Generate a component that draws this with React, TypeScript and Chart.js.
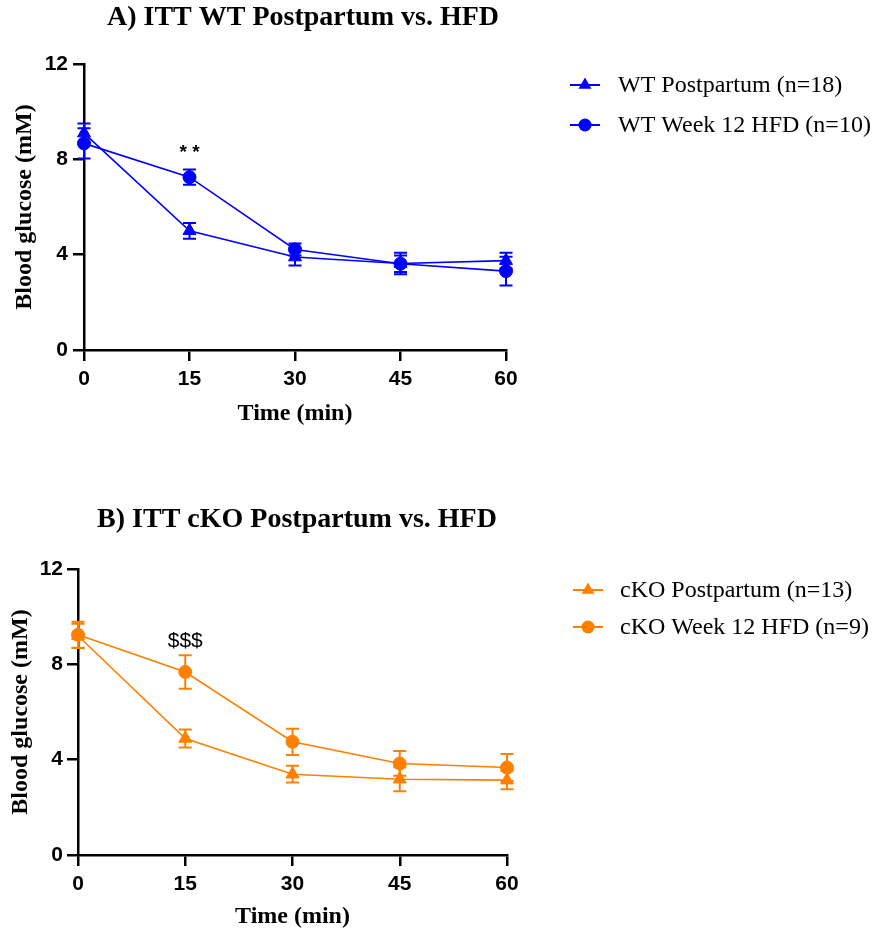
import React, { useEffect, useRef } from 'react';
import { Chart, registerables } from 'chart.js';

Chart.register(...registerables);

// ---------- data ----------
const times = [0, 15, 30, 45, 60];
const xTickValues = [0, 15, 30, 45, 60];
const yTickValues = [0, 4, 8, 12];

const wtPostpartumMean = [9.1, 5.0, 3.9, 3.63, 3.75];
const wtPostpartumSem = [0.4, 0.33, 0.35, 0.45, 0.33];
const wtHfdMean = [8.67, 7.25, 4.22, 3.62, 3.31];
const wtHfdSem = [0.63, 0.32, 0.25, 0.35, 0.6];

const koPostpartumMean = [9.2, 4.89, 3.39, 3.18, 3.14];
const koPostpartumSem = [0.5, 0.38, 0.35, 0.5, 0.38];
const koHfdMean = [9.24, 7.68, 4.75, 3.84, 3.67];
const koHfdSem = [0.55, 0.7, 0.55, 0.52, 0.57];

const labelsA = ['WT Postpartum (n=18)', 'WT Week 12 HFD (n=10)'];
const labelsB = ['cKO Postpartum (n=13)', 'cKO Week 12 HFD (n=9)'];
const titleA = 'A) ITT WT Postpartum vs. HFD';
const titleB = 'B) ITT cKO Postpartum vs. HFD';
const annotA = { x: 15, y: 8.28, text: '* *' };
const annotB = { x: 15, y: 8.97, text: '$$$' };

const BLUE = '#0000ff';
const ORANGE = '#ff8000';

const SERIF = '"Liberation Serif", "Times New Roman", serif';
const SANS = '"Liberation Sans", Arial, sans-serif';

function drawMarker(ctx: CanvasRenderingContext2D, style: string, x: number, y: number, r: number, color: string) {
  ctx.save();
  ctx.fillStyle = color;
  ctx.beginPath();
  if (style === 'triangle') {
    let rad = 0;
    ctx.moveTo(x + Math.sin(rad) * r, y - Math.cos(rad) * r);
    rad += (2 * Math.PI) / 3;
    ctx.lineTo(x + Math.sin(rad) * r, y - Math.cos(rad) * r);
    rad += (2 * Math.PI) / 3;
    ctx.lineTo(x + Math.sin(rad) * r, y - Math.cos(rad) * r);
    ctx.closePath();
  } else {
    ctx.arc(x, y, r, 0, Math.PI * 2);
  }
  ctx.fill();
  ctx.restore();
}

const errorBarPlugin = {
  id: 'errorBars',
  beforeDatasetsDraw(chart: any, _args: any, opts: any) {
    const { ctx, scales } = chart;
    const xs = scales.x;
    const ys = scales.y;
    const errs: number[][] = opts.errors || [];
    chart.data.datasets.forEach((ds: any, i: number) => {
      const e = errs[i];
      if (!e) return;
      ctx.save();
      ctx.strokeStyle = ds.borderColor;
      ctx.lineWidth = 2;
      ds.data.forEach((p: any, j: number) => {
        const px = xs.getPixelForValue(p.x);
        const top = ys.getPixelForValue(p.y + e[j]);
        const bot = ys.getPixelForValue(p.y - e[j]);
        ctx.beginPath();
        ctx.moveTo(px, top);
        ctx.lineTo(px, bot);
        ctx.moveTo(px - 6.5, top);
        ctx.lineTo(px + 6.5, top);
        ctx.moveTo(px - 6.5, bot);
        ctx.lineTo(px + 6.5, bot);
        ctx.stroke();
      });
      ctx.restore();
    });
  },
};

const decorPlugin = {
  id: 'decor',
  afterDraw(chart: any, _args: any, o: any) {
    const { ctx, scales } = chart;
    ctx.save();
    // title
    ctx.fillStyle = '#000';
    ctx.font = `bold 28px ${SERIF}`;
    ctx.textAlign = 'center';
    ctx.textBaseline = 'middle';
    ctx.fillText(o.title, o.titleX, o.titleY);
    // annotation
    ctx.font = o.annotFont;
    ctx.fillText(o.annot.text, scales.x.getPixelForValue(o.annot.x), scales.y.getPixelForValue(o.annot.y));
    // legend
    ctx.textAlign = 'left';
    ctx.font = `24px ${SERIF}`;
    chart.data.datasets.forEach((ds: any, i: number) => {
      const y = o.legendY + i * o.legendGap;
      ctx.strokeStyle = ds.borderColor;
      ctx.lineWidth = 2;
      ctx.beginPath();
      ctx.moveTo(o.legendLineX, y);
      ctx.lineTo(o.legendLineX + 30, y);
      ctx.stroke();
      drawMarker(ctx, ds.pointStyle, o.legendLineX + 15, y, ds.pointStyle === 'triangle' ? 7.5 : 6.5, ds.borderColor);
      ctx.fillStyle = '#000';
      ctx.fillText(ds.label, o.legendTextX, y + 1);
    });
    ctx.restore();
  },
};

function makeConfig(p: any): any {
  const mk = (mean: number[]) => mean.map((v, i) => ({ x: times[i], y: v }));
  return {
    type: 'line',
    data: {
      datasets: [
        {
          label: p.labels[0],
          data: mk(p.means[0]),
          borderColor: p.color,
          backgroundColor: p.color,
          borderWidth: 1.6,
          pointStyle: 'triangle',
          pointRadius: 7.5,
          pointBorderWidth: 1,
          clip: false,
        },
        {
          label: p.labels[1],
          data: mk(p.means[1]),
          borderColor: p.color,
          backgroundColor: p.color,
          borderWidth: 1.6,
          pointStyle: 'circle',
          pointRadius: 6.5,
          pointBorderWidth: 1,
          clip: false,
        },
      ],
    },
    options: {
      responsive: false,
      animation: false,
      devicePixelRatio: 1,
      layout: { padding: p.padding },
      plugins: {
        legend: { display: false },
        tooltip: { enabled: false },
        errorBars: { errors: p.errors },
        decor: {
          title: p.title,
          titleX: p.titleX,
          titleY: p.titleY,
          annot: p.annot,
          annotFont: p.annotFont,
          legendY: p.legendY,
          legendGap: p.legendGap,
          legendLineX: p.legendLineX,
          legendTextX: p.legendTextX,
        },
      },
      scales: {
        x: {
          type: 'linear',
          min: 0,
          max: 60,
          afterBuildTicks: (s: any) => {
            s.ticks = xTickValues.map((v) => ({ value: v }));
          },
          afterFit: (s: any) => {
            s.height = p.xHeight;
          },
          ticks: {
            font: { family: SANS, size: 21, weight: 'bold' },
            color: '#000',
            padding: 6,
            maxRotation: 0,
          },
          grid: { drawOnChartArea: false, drawTicks: true, tickLength: 11, color: '#000', lineWidth: 2.5 },
          border: { display: true, color: '#000', width: 2.5 },
          title: {
            display: true,
            text: 'Time (min)',
            font: { family: SERIF, size: 24, weight: 'bold' },
            color: '#000',
            padding: { top: 0, bottom: p.xTitlePad },
          },
        },
        y: {
          type: 'linear',
          min: 0,
          max: 12,
          afterBuildTicks: (s: any) => {
            s.ticks = yTickValues.map((v) => ({ value: v }));
          },
          afterFit: (s: any) => {
            s.width = p.yWidth;
          },
          ticks: {
            font: { family: SANS, size: 21, weight: 'bold' },
            color: '#000',
            padding: p.yTickPad,
          },
          grid: { drawOnChartArea: false, drawTicks: true, tickLength: 11, color: '#000', lineWidth: 2.5 },
          border: { display: true, color: '#000', width: 2.5 },
          title: {
            display: true,
            text: 'Blood glucose (mM)',
            font: { family: SERIF, size: 24, weight: 'bold' },
            color: '#000',
            padding: { top: p.yTitlePad, bottom: 0 },
          },
        },
      },
    },
    plugins: [errorBarPlugin, decorPlugin],
  };
}

function Panel({ top, height, params }: { top: number; height: number; params: any }) {
  const ref = useRef<HTMLCanvasElement>(null);
  useEffect(() => {
    const chart = new Chart(ref.current as HTMLCanvasElement, makeConfig(params));
    return () => chart.destroy();
  }, []);
  return (
    <div style={{ position: 'absolute', left: 0, top, width: 874, height }}>
      <canvas ref={ref} width={874} height={height} style={{ width: 874, height, display: 'block' }} />
    </div>
  );
}

const paramsA = {
  labels: labelsA,
  means: [wtPostpartumMean, wtHfdMean],
  errors: [wtPostpartumSem, wtHfdSem],
  color: BLUE,
  title: titleA,
  titleX: 303,
  titleY: 18,
  annot: annotA,
  annotFont: `bold 19px ${SANS}`,
  padding: { left: 0, top: 64, right: 368, bottom: 0 },
  xHeight: 90,
  xTitlePad: 12,
  yWidth: 84,
  yTitlePad: 10,
  yTickPad: 5,
  legendY: 85,
  legendGap: 40,
  legendLineX: 570,
  legendTextX: 618,
};

const paramsB = {
  labels: labelsB,
  means: [koPostpartumMean, koHfdMean],
  errors: [koPostpartumSem, koHfdSem],
  color: ORANGE,
  title: titleB,
  titleX: 297,
  titleY: 40,
  annot: annotB,
  annotFont: `21px ${SANS}`,
  padding: { left: 0, top: 89, right: 367, bottom: 0 },
  xHeight: 77,
  xTitlePad: 1,
  yWidth: 78,
  yTitlePad: 6,
  yTickPad: 4,
  legendY: 110,
  legendGap: 37,
  legendLineX: 573,
  legendTextX: 620,
};

export default function App() {
  return (
    <div style={{ position: 'absolute', left: 0, top: 0, width: 874, height: 932, background: '#fff' }}>
      <Panel top={0} height={440} params={paramsA} />
      <Panel top={480} height={452} params={paramsB} />
    </div>
  );
}
